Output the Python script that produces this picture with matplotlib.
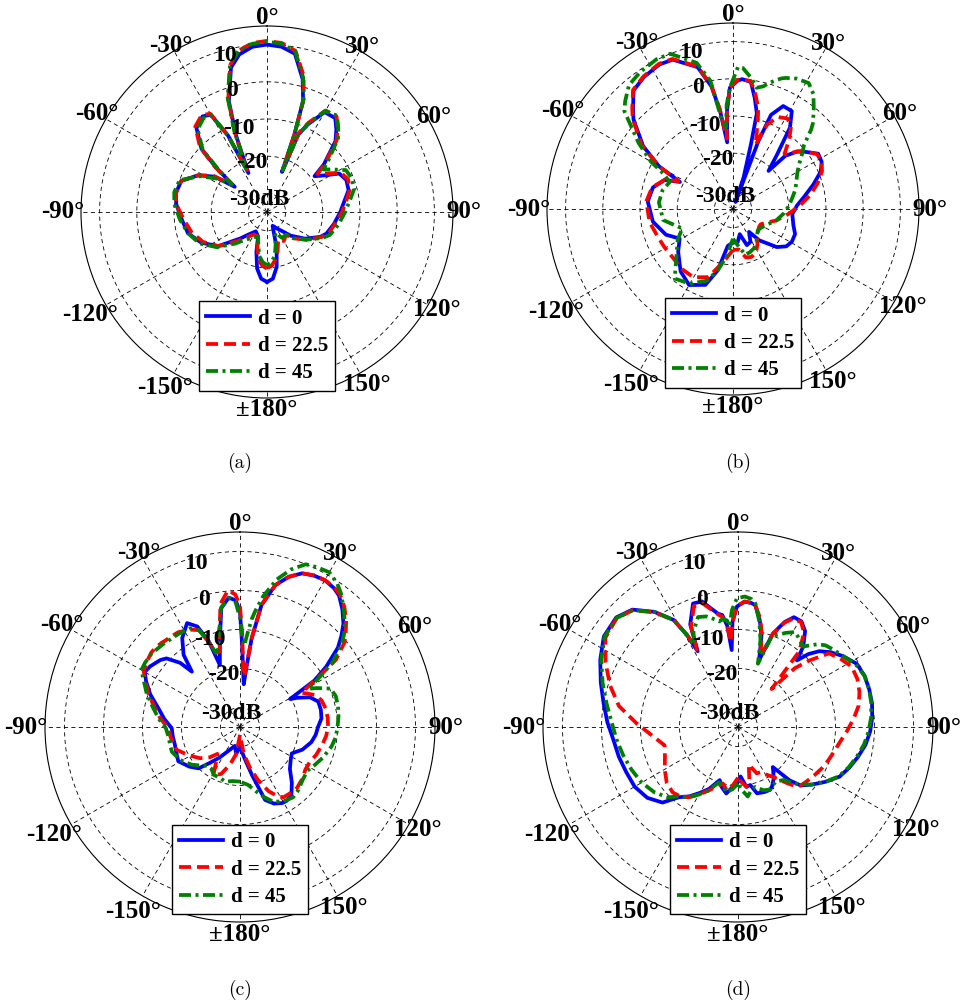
import numpy as np
import matplotlib
matplotlib.use("Agg")
import matplotlib.pyplot as plt
from matplotlib.font_manager import FontProperties

# angles in degrees (0 at top, clockwise), gains in dB
a_ang = [-180, -175, -170, -165, -160, -150, -140, -135, -125, -115, -105, -95, -85, -78, -70, -62,
         -56, -52, -49, -46, -40, -34, -30, -27, -25.5, -22, -19, -14, -10, -5, 0, 5, 10, 15, 18,
         19.5, 20.5, 22, 25, 30, 36, 40, 44, 50, 53, 57, 62, 68, 75, 82, 90, 100, 110, 115, 125,
         135, 140, 150, 158, 165, 170, 175, 180]
a_d0 = [-16.2, -17, -19.6, -24, -28, -29, -27, -25, -19, -15.5, -13, -12, -10.5, -10, -10.5, -14,
        -18, -24, -17, -10.5, -5.5, -4, -4.8, -12, -23.4, -12.7, -3.5, 5, 8, 9.6, 10, 9.6, 8.2, 2,
        -3.6, -13, -23.5, -12.6, -9, -4, -3.8, -6, -8.5, -15, -19, -17, -13, -12, -12.3, -14,
        -15.3, -16.7, -18, -19.2, -22.5, -26, -28, -30, -31, -25, -20, -17, -16.2]
a_d22 = [-19.8, -20.5, -22, -25, -28, -28, -26, -24, -19, -16, -14, -12.5, -10.5, -10, -10.5, -14,
         -17.5, -23, -16.5, -10, -5, -3.6, -4.5, -12, -22.5, -12, -3, 5.8, 9, 10.6, 11, 10.6, 9, 3,
         -3, -13, -23, -12, -8.5, -3.5, -3.2, -5.5, -8, -14.5, -18, -16, -12.5, -11.5, -12, -13.5,
         -14.8, -16.5, -17.5, -19, -22, -25, -27, -26, -27, -24, -22, -20.5, -19.8]
a_d45 = [-20.7, -21.5, -23, -26, -28, -27, -25, -23, -18.5, -15, -13, -11.5, -10, -9.5, -10, -14.5,
         -19, -23, -18, -11, -6, -4.5, -5, -12, -22, -11.5, -2.5, 6, 9, 10.4, 10.8, 10.4, 8.8, 2.5,
         -3.5, -13, -23, -12.5, -8.8, -3.6, -3, -5.2, -7.5, -13.5, -16, -14, -11, -10.5, -10.7,
         -12.5, -14, -15.5, -17, -18.5, -22, -25, -27, -27, -29, -26, -23, -21.5, -20.7]

b_ang = [-180, -172, -166, -160, -150, -140, -128, -119, -111, -99, -85, -75, -67, -63, -60, -55,
         -48, -45, -40, -34, -27, -22, -14, -10, -7.5, -5, -3.5, -1.5, 2, 4, 8, 11, 14, 15.5, 18.5,
         19.5, 20.5, 22, 26, 31, 35, 39, 43, 44.5, 48, 51, 57, 62, 67, 73, 80, 87, 95, 105, 112,
         119, 125, 131, 140, 145, 152, 159, 165, 172, 180]
b_d0 = [-26, -25, -18, -13.3, -11.4, -13.1, -16.3, -18.6, -15.7, -13.2, -12, -12.7, -15, -19, -12,
        -5.5, 1, 3, 6.6, 7.8, 8.6, 8.3, 4.3, -1.5, -8.4, -17, -8.6, -2.4, -0.5, 0, -0.5, -4.5, -8.5,
        -17, -26, -33, -15.5, -7.7, -4.2, -4.3, -8.3, -16.2, -21, -15, -12, -10.5, -7.7, -8, -9.4,
        -12.4, -15.5, -17.8, -19, -18.2, -17, -16.9, -17.5, -19.4, -24, -27.5, -25, -24.6, -28,
        -26, -26]
b_d22 = [-24, -21.5, -19, -15.5, -13.8, -13.8, -14.2, -13.9, -13.5, -12.3, -11.6, -12.5, -15,
         -18.5, -12, -5, 1.3, 3.3, 6.8, 8, 8.8, 8.5, 4.5, -1.2, -8, -16, -8.5, -2.4, -0.3, 0, -0.3,
         -3.5, -7, -10, -15.5, -16.7, -14, -10.5, -7.5, -6.6, -7.8, -11, -14.7, -14.5, -11.8,
         -10.2, -8, -8, -9, -11.2, -14, -17, -20, -23, -25.3, -26.5, -26.5, -26, -25, -23.5,
         -21.8, -21.2, -21.5, -24, -24]
b_d45 = [-27, -22, -18, -14.5, -11.8, -10.6, -15.8, -18, -20.4, -16, -15, -15.4, -16.5, -14,
         -9.5, -4, 4.3, 6, 8.5, 9.5, 10.2, 10, 5.5, 0, -10, -13, -7, -2.4, 3.2, 3, 0.5, -1.8, -1,
         0, 1.5, 2, 2.5, 3, 4, 4.5, 2.7, -0.5, -3.5, -5, -9.3, -11, -14, -15.5, -16.5, -17.5,
         -18.9, -20, -21.3, -23, -24.5, -25.5, -26, -26.2, -25, -24, -23, -22.5, -22.3, -25, -27]

c_ang = [-180, -172, -165, -158, -151, -146, -140, -135, -128, -119, -110, -105, -98, -91, -84,
         -77, -70, -64, -60, -56, -50, -47, -43, -41, -38, -33, -27, -23, -20, -18, -15, -12.7,
         -9, -5, -2, 0, 1.5, 3, 5, 6.3, 7.5, 10, 14, 18, 22, 26, 30, 34, 37, 41, 45, 48, 51, 55,
         58, 60.8, 63, 67, 72, 78, 84, 90, 96, 102, 110, 117, 123, 130, 137, 143, 148, 151, 156,
         161, 166, 172, 180]
c_d0 = [-30, -28, -30, -29, -27.4, -25.5, -23, -20, -18.5, -16.9, -17.5, -17.7, -17.6, -17.5,
        -15.5, -13.5, -10.5, -8.2, -6.8, -7.2, -8.3, -9.2, -12.5, -16.2, -11.5, -7.8, -5.1, -7,
        -11.7, -18.3, -15, -11.7, -4.2, -1.7, -2.5, -5.4, -14, -20, -24, -19, -12.1, -3.2, 2.5,
        5.5, 7.5, 8.2, 8.5, 8, 7.2, 5, 2.5, 0, -2.7, -8, -12.5, -20.3, -18.5, -15.5, -13.9, -13.8,
        -14, -15, -15.5, -16.3, -18, -20.1, -19.5, -18.3, -15.5, -13.1, -12.6, -12.7, -13.5,
        -15.2, -22.3, -27, -30]
c_d22 = [-33, -28, -25, -22, -20.9, -24, -26, -24, -22, -20, -17.8, -17.3, -17, -16.6, -14.5,
         -12.5, -10, -8, -6.5, -5.9, -5.3, -5.3, -5.5, -5.7, -5.8, -6, -7, -8, -12, -15, -15, -11,
         -3, 0.2, -1, -4, -12, -20, -22, -18, -12, -3.2, 2.5, 5.5, 7.5, 8.3, 8.5, 8.2, 7.6, 5.8,
         3.5, 1.5, -0.5, -5, -12, -17, -16, -14, -13, -12.5, -12.4, -12.4, -12.8, -13.4, -14.2,
         -15, -15, -14.2, -13.6, -13.7, -13.8, -14.5, -17, -20.5, -24, -28, -33]
c_d45 = [-21, -21, -20.5, -21, -21, -22, -22, -21, -19.3, -17.5, -16.4, -16.5, -16.5, -16, -14,
         -12, -9.5, -7.5, -5.8, -5.6, -5.5, -5.8, -6, -6.2, -6.3, -6.4, -6.6, -8, -12, -15, -14,
         -10.5, -4, -1.8, -3, -7, -12, -14, -10, -7, -5, -1, 4, 7.5, 10, 10.5, 10.8, 9.5, 8, 5.5,
         3, 1, -1.5, -6, -11, -15, -13, -9.8, -9.2, -9.3, -9.6, -10, -10.3, -11, -12.3, -13.5,
         -14.4, -14, -13, -12.4, -12.8, -13.2, -14, -16, -18, -20, -21]

d_ang = [-180, -175, -170, -165, -161, -155, -150, -145, -140, -135, -128, -120, -112, -104, -96,
         -88, -80, -72, -64, -56, -48, -42, -36, -31, -29, -28, -25, -20, -16, -13, -10, -8, -6,
         -4.7, -3, -0.5, 3, 6, 8, 11.5, 14.5, 17.5, 20.5, 24, 27, 31, 35, 39, 41.5, 44, 47, 51,
         56, 62, 68, 74, 80, 86, 92, 98, 104, 110, 116, 122, 128, 133, 136, 139, 145, 150, 153,
         158, 164, 168, 172, 177, 180]
d_d0 = [-21, -19.6, -17.7, -19, -20.6, -17.5, -15.5, -13.3, -11.5, -7.6, -5.5, -4.4, -4.1, -3.5,
        -2.9, -1.5, 0, 2, 4.3, 6.5, 7, 5.5, 1.5, -3, -8, -13, -6, -1.3, -1.5, -3.7, -5.5, -6, -9,
        -15.2, -8, -4.1, -2.8, -3, -3.4, -7, -11, -17, -9.4, -5.5, -3.4, -3.4, -5, -8.4, -12.2,
        -9, -6.5, -4.5, -2.5, -0.5, 0, 0, -0.1, -0.5, -1.1, -2, -3.3, -4.6, -6, -8.5, -11, -13,
        -16, -21.4, -19, -17.5, -16.9, -17, -17.3, -19.8, -19.5, -22.3, -21]
d_d22 = [-22, -20, -18.5, -20, -19, -17, -15, -13, -11.8, -11.3, -11.8, -13.3, -14.8, -15.6, -13,
         -9, -4, -0.5, 2.8, 6, 6.8, 5.3, 1.3, -3, -8, -12.5, -6.5, -2, -2, -4, -5.7, -6.5, -9.5,
         -13, -8, -4, -2.8, -3, -3.4, -6.5, -10.5, -16, -9.6, -5.7, -3.8, -3.6, -5.5, -10, -22,
         -14, -10, -5, -3.5, -2, -2, -2.6, -3.6, -5.3, -7, -8.5, -9.5, -10.3, -11, -11.8, -12.5,
         -13, -14, -16, -19.4, -21, -22, -22.2, -25, -21, -19.5, -21, -22]
d_d45 = [-20.5, -19, -18, -19.5, -20, -17, -15, -13, -11.8, -9.5, -7.8, -6.5, -5.6, -4.7, -3.7,
         -2.6, -0.8, 1.5, 4, 6.3, 6.8, 5.3, 1.5, -3, -8, -11, -8, -5, -5.5, -6.5, -7.5, -7, -7.5,
         -9, -5, -2, -1.5, -2, -3, -7.5, -12, -18, -10, -9, -7.9, -6.6, -7.5, -8.5, -7, -5.5,
         -4.3, -3.5, -2.5, -0.8, 0, 0, -0.3, -0.8, -1.5, -2.4, -3.6, -4.8, -6.2, -8.5, -11, -13.5,
         -15, -17, -18, -17.5, -17, -17.5, -19, -18.5, -17, -19, -20.5]

labels = ['d = 0', 'd = 22.5', 'd = 45']
ring_db = [10, 0, -10, -20, -30]
ring_txt = ['10', '0', '-10', '-20', '-30dB']
ang_ticks = [0, 30, 60, 90, 120, 150, 180, -150, -120, -90, -60, -30]
ang_txt = ['0°', '30°', '60°', '90°', '120°', '150°', '±180°', '-150°', '-120°', '-90°',
           '-60°', '-30°']

OFFSET = 35.0   # dB at the centre is -35
RMAX = 50.0     # outer circle = +15 dB

serif = 'Liberation Serif'
bold = FontProperties(family=serif, weight='bold', size=18)
bold_ring = FontProperties(family=serif, weight='bold', size=17)
leg_font = FontProperties(family=serif, weight='bold', size=15)

# where the labels sit (angle, radius in plot units)
ring_spots = [(-15.2, 43.5), (-15.9, 33.9), (-18.8, 23.7), (-17.4, 14.0), (-32.6, 4.0)]
ang_r = [52.2, 51.3, 51.6, 52.8, 52.6, 53.4, 53.2, 54.6, 55.0, 55.0, 52.8, 51.8]


def rad(deg):
    return np.radians(np.asarray(deg, dtype=float))


def to_r(db):
    return np.clip(np.asarray(db, dtype=float) + OFFSET, 0, None)


def panel(rect, ang, s0, s1, s2):
    ax = fig.add_axes(rect, projection='polar')
    ax.set_theta_zero_location('N')
    ax.set_theta_direction(-1)
    ax.set_ylim(0, RMAX)
    ax.grid(False)
    ax.set_xticks([])
    ax.set_yticks([])
    ax.spines['polar'].set_linewidth(0.8)

    full = np.linspace(0, 2 * np.pi, 400)
    for db in ring_db:
        ax.plot(full, np.full_like(full, db + OFFSET), color='k', lw=0.6,
                ls=(0, (5, 4)), zorder=1)
    for t in range(0, 360, 30):
        ax.plot([np.radians(t)] * 2, [0, RMAX], color='k', lw=0.6, ls=(0, (5, 4)), zorder=1)

    th = rad(ang)
    l0, = ax.plot(th, to_r(s0), color='#0000ff', lw=2.7, zorder=3)
    l1, = ax.plot(th, to_r(s1), color='#ff0000', lw=2.7, dashes=(3.2, 1.6), zorder=4)
    l2, = ax.plot(th, to_r(s2), color='#008000', lw=2.7, dashes=(3.2, 1.2, 0.8, 1.2), zorder=5)

    # ring labels, MATLAB polar style, just left of the 0° spoke
    for txt, (a, r) in zip(ring_txt, ring_spots):
        ax.text(np.radians(a), r, txt, fontproperties=bold_ring, ha='center', va='center',
                zorder=6)
    for a, txt, r in zip(ang_ticks, ang_txt, ang_r):
        ax.text(np.radians(a), r, txt, fontproperties=bold, ha='center', va='center')

    leg = ax.legend([l0, l1, l2], labels, loc='lower center', bbox_to_anchor=(0.5, 0.02),
                    prop=leg_font, fancybox=False, framealpha=1, edgecolor='k',
                    handlelength=2.1, labelspacing=0.35, borderpad=0.35, handletextpad=0.4,
                    borderaxespad=0)
    leg.get_frame().set_linewidth(1.0)
    leg.set_zorder(10)
    return ax


W, H = 964, 1006
fig = plt.figure(figsize=(W / 100, H / 100), dpi=100)


def box(cx, cy, r):
    return [(cx - r) / W, 1 - (cy + r) / H, 2 * r / W, 2 * r / H]


panel(box(267, 212, 186), a_ang, a_d0, a_d22, a_d45)
panel(box(733, 209, 186), b_ang, b_d0, b_d22, b_d45)
panel(box(240, 727, 195), c_ang, c_d0, c_d22, c_d45)
panel(box(738, 727, 195), d_ang, d_d0, d_d22, d_d45)

cap = dict(family='cmr10', size=14, ha='center', va='center')
fig.text(240 / W, 1 - 463 / H, '(a)', **cap)
fig.text(738 / W, 1 - 463 / H, '(b)', **cap)
fig.text(240 / W, 1 - 990 / H, '(c)', **cap)
fig.text(738 / W, 1 - 990 / H, '(d)', **cap)

fig.savefig('out.png', dpi=100)
